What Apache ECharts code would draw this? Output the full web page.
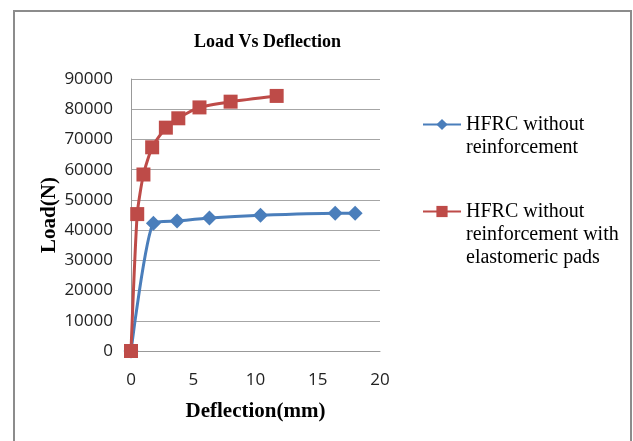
<!DOCTYPE html>
<html><head><meta charset="utf-8">
<script src="https://cdn.jsdelivr.net/npm/echarts@6/dist/echarts.min.js"></script>
<style>html,body{margin:0;padding:0;background:#fff}#c{width:633px;height:441px}</style>
</head><body><div id="c"></div>
<script>
const titleText = 'Load Vs Deflection';
const xName = 'Deflection(mm)';
const yName = 'Load(N)';
const seriesNames = ['HFRC without reinforcement', 'HFRC without reinforcement with elastomeric pads'];
const legendLines = [['HFRC without', 'reinforcement'], ['HFRC without', 'reinforcement with', 'elastomeric pads']];
const deflectionA = [0, 1.8, 3.7, 6.3, 10.4, 16.4, 18.0];
const loadA = [0, 42300, 43000, 44000, 44900, 45600, 45600];
const deflectionB = [0, 0.5, 1.0, 1.7, 2.8, 3.8, 5.5, 8.0, 11.7];
const loadB = [0, 45300, 58400, 67400, 73900, 77000, 80600, 82500, 84400];
const xTicks = [0, 5, 10, 15, 20];
const yTicks = [0, 10000, 20000, 30000, 40000, 50000, 60000, 70000, 80000, 90000];

const colors = ['#4A7EBB', '#BE4B48'];
const serif = 'Liberation Serif';
const sans = 'Open Sans';
const LH = 23;

const chart = echarts.init(document.getElementById('c'), null, {renderer: 'canvas'});
function legendFor(i, top) {
  const n = legendLines[i].length;
  // blank lines above keep the first line level with the legend symbol
  const blanks = new Array(n - 1).fill(' ');
  return {
    left: 422, top: top, orient: 'vertical', padding: 0,
    itemWidth: 38, itemHeight: 14, selectedMode: false,
    data: [seriesNames[i]],
    formatter: () => blanks.concat(legendLines[i]).join('\n'),
    textStyle: {fontFamily: serif, fontSize: 20, lineHeight: LH, color: '#000'}
  };
}
chart.setOption({
  animation: false,
  backgroundColor: '#fff',
  title: {text: titleText, left: 194, top: 33, padding: 0,
    textStyle: {fontFamily: serif, fontWeight: 'bold', fontSize: 18, color: '#000'}},
  graphic: [{type: 'rect', shape: {x: 14, y: 11, width: 617, height: 440},
    style: {fill: 'none', stroke: '#8c8c8c', lineWidth: 2}, silent: true}],
  legend: [legendFor(0, 90), legendFor(1, 154)],
  grid: {left: 131, right: 253, top: 79, bottom: 90, containLabel: false},
  xAxis: {
    type: 'value', min: xTicks[0], max: xTicks[xTicks.length - 1], interval: 5,
    name: xName, nameLocation: 'middle', nameGap: 50,
    nameTextStyle: {fontFamily: serif, fontWeight: 'bold', fontSize: 21, color: '#000'},
    axisLine: {show: true, lineStyle: {color: '#999', width: 1}},
    axisTick: {show: false},
    splitLine: {show: false},
    axisLabel: {fontFamily: sans, fontSize: 17, color: '#222', margin: 21}
  },
  yAxis: {
    type: 'value', min: yTicks[0], max: yTicks[yTicks.length - 1], interval: 10000,
    name: yName, nameLocation: 'middle', nameGap: 70, nameRotate: 90,
    nameTextStyle: {fontFamily: serif, fontWeight: 'bold', fontSize: 21, color: '#000'},
    axisLine: {show: true, lineStyle: {color: '#999', width: 1}},
    axisTick: {show: false},
    splitLine: {show: true, lineStyle: {color: '#a6a6a6', width: 1}},
    axisLabel: {fontFamily: sans, fontSize: 17, color: '#222', margin: 18,
      formatter: v => String(v)}
  },
  series: [
    {name: seriesNames[0], type: 'line', smooth: 0.2,
      data: deflectionA.map((x, i) => [x, loadA[i]]),
      symbol: 'diamond', symbolSize: 15,
      lineStyle: {color: colors[0], width: 3}, itemStyle: {color: colors[0]}},
    {name: seriesNames[1], type: 'line', smooth: 0.2,
      data: deflectionB.map((x, i) => [x, loadB[i]]),
      symbol: 'rect', symbolSize: 14,
      lineStyle: {color: colors[1], width: 3}, itemStyle: {color: colors[1]}}
  ]
});
</script></body></html>
